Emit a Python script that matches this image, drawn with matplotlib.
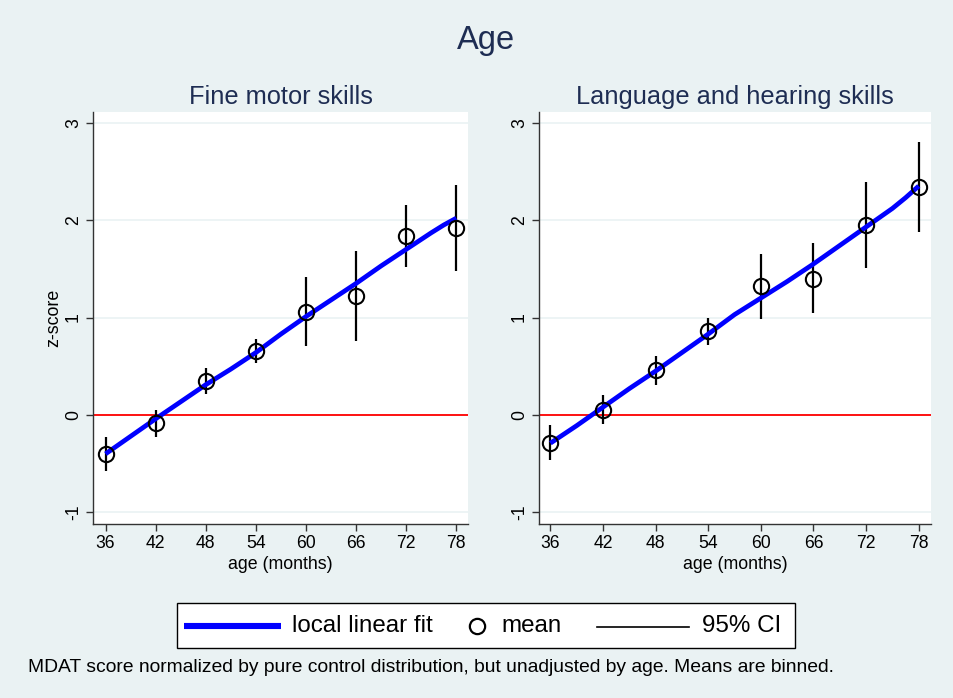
import matplotlib
matplotlib.use("Agg")
import matplotlib.pyplot as plt
from matplotlib.lines import Line2D
from matplotlib.patches import Rectangle
import numpy as np

plt.rcParams['font.family'] = ['Liberation Sans', 'DejaVu Sans']

# ---------- Data ----------
age_bins = [36, 42, 48, 54, 60, 66, 72, 78]
fit_age = [36, 39, 42, 45, 48, 51, 54, 57, 60, 63, 66, 69, 72, 75, 76.5, 78]

# Fine motor skills
fine_mean = [-0.40, -0.08, 0.345, 0.66, 1.06, 1.22, 1.84, 1.92]
fine_lo = [-0.58, -0.225, 0.21, 0.535, 0.71, 0.76, 1.52, 1.475]
fine_hi = [-0.225, 0.05, 0.48, 0.775, 1.42, 1.685, 2.155, 2.365]
fine_fit = [-0.40, -0.22, -0.04, 0.135, 0.31, 0.47, 0.64, 0.83, 1.01, 1.18,
            1.35, 1.53, 1.70, 1.87, 1.95, 2.02]

# Language and hearing skills
lang_mean = [-0.29, 0.055, 0.46, 0.86, 1.32, 1.40, 1.95, 2.345]
lang_lo = [-0.465, -0.09, 0.305, 0.72, 0.98, 1.05, 1.505, 1.875]
lang_hi = [-0.105, 0.20, 0.605, 0.99, 1.655, 1.76, 2.395, 2.805]
lang_fit = [-0.29, -0.11, 0.08, 0.27, 0.45, 0.64, 0.83, 1.03, 1.20, 1.37,
            1.55, 1.74, 1.93, 2.12, 2.23, 2.35]

panels = [
    ("Fine motor skills", fine_mean, fine_lo, fine_hi, fine_fit),
    ("Language and hearing skills", lang_mean, lang_lo, lang_hi, lang_fit),
]

x_ticks = [36, 42, 48, 54, 60, 66, 72, 78]
y_ticks = [-1, 0, 1, 2, 3]
legend_labels = ["local linear fit", "mean", "95% CI"]
note = "MDAT score normalized by pure control distribution, but unadjusted by age. Means are binned."

# ---------- Styling ----------
bg = "#eaf2f3"
navy = "#1e2d53"
W, H = 954, 698


def px(x, y):
    # pixel position (from top-left) -> figure fraction
    return x / W, 1 - y / H


fig = plt.figure(figsize=(W / 100, H / 100), dpi=100, facecolor=bg)

ax_px = [(93, 468), (539, 931)]
top_px, bot_px = 112, 524
xlims = [(34.5, 79.4), (34.7, 79.4)]

for i, (title, mean, lo, hi, fit) in enumerate(panels):
    l, r = ax_px[i]
    ax = fig.add_axes([l / W, 1 - bot_px / H, (r - l) / W, (bot_px - top_px) / H])
    ax.set_facecolor("white")
    ax.set_xlim(*xlims[i])
    ax.set_ylim(-1.12, 3.11)

    for yt in y_ticks:
        ax.axhline(yt, color=bg, lw=1.2, zorder=0)
    ax.axhline(0, color="red", lw=1.3, zorder=1)

    ax.vlines(age_bins, lo, hi, color="black", lw=1.6, zorder=2)
    ax.plot(fit_age, fit, color="#0000ff", lw=3.4, zorder=3, solid_capstyle="butt")
    ax.plot(age_bins, mean, "o", ms=11, mfc="none", mec="black", mew=1.5, zorder=4)

    ax.set_xticks(x_ticks)
    ax.set_yticks(y_ticks)
    ax.set_yticklabels([str(v) for v in y_ticks], rotation=90, va="center")
    ax.tick_params(axis="both", labelsize=12.7, length=5, width=1, color="#333333",
                   labelcolor="black", pad=3)
    for s in ["top", "right"]:
        ax.spines[s].set_visible(False)
    for s in ["left", "bottom"]:
        ax.spines[s].set_color("#333333")
        ax.spines[s].set_linewidth(1)

    ax.set_xlabel("age (months)", fontsize=12.8, labelpad=3)
    if i == 0:
        ax.set_ylabel("z-score", fontsize=12.8, labelpad=2)
    ax.set_title(title, fontsize=18.3, color=navy, pad=6)

fig.text(*px(486, 40), "Age", fontsize=23.5, color=navy, ha="center", va="center")

# ---------- Legend (drawn by hand to match Stata spacing) ----------
x0, y0 = px(177, 648)
x1, y1 = px(795, 603)
fig.add_artist(Rectangle((x0, y0), x1 - x0, y1 - y0, transform=fig.transFigure,
                         facecolor="white", edgecolor="black", lw=1))
ly = 625.5
fig.add_artist(Line2D([184 / W, 281 / W], [px(0, ly)[1]] * 2, transform=fig.transFigure,
                      color="#0000ff", lw=4.4, solid_capstyle="butt"))
fig.text(*px(292, ly), legend_labels[0], fontsize=17.4, ha="left", va="center")
fig.add_artist(Line2D([477 / W], [px(0, ly)[1]], transform=fig.transFigure, marker="o",
                      ms=11, mfc="none", mec="black", mew=1.6, ls="none"))
fig.text(*px(501, ly), legend_labels[1], fontsize=17.4, ha="left", va="center")
fig.add_artist(Line2D([597 / W, 689 / W], [px(0, ly + 1)[1]] * 2, transform=fig.transFigure,
                      color="black", lw=1.2))
fig.text(*px(702, ly), legend_labels[2], fontsize=17.4, ha="left", va="center")

fig.text(*px(28, 667), note, fontsize=13.9, ha="left", va="center")

fig.savefig("out.png", dpi=100, facecolor=bg)
